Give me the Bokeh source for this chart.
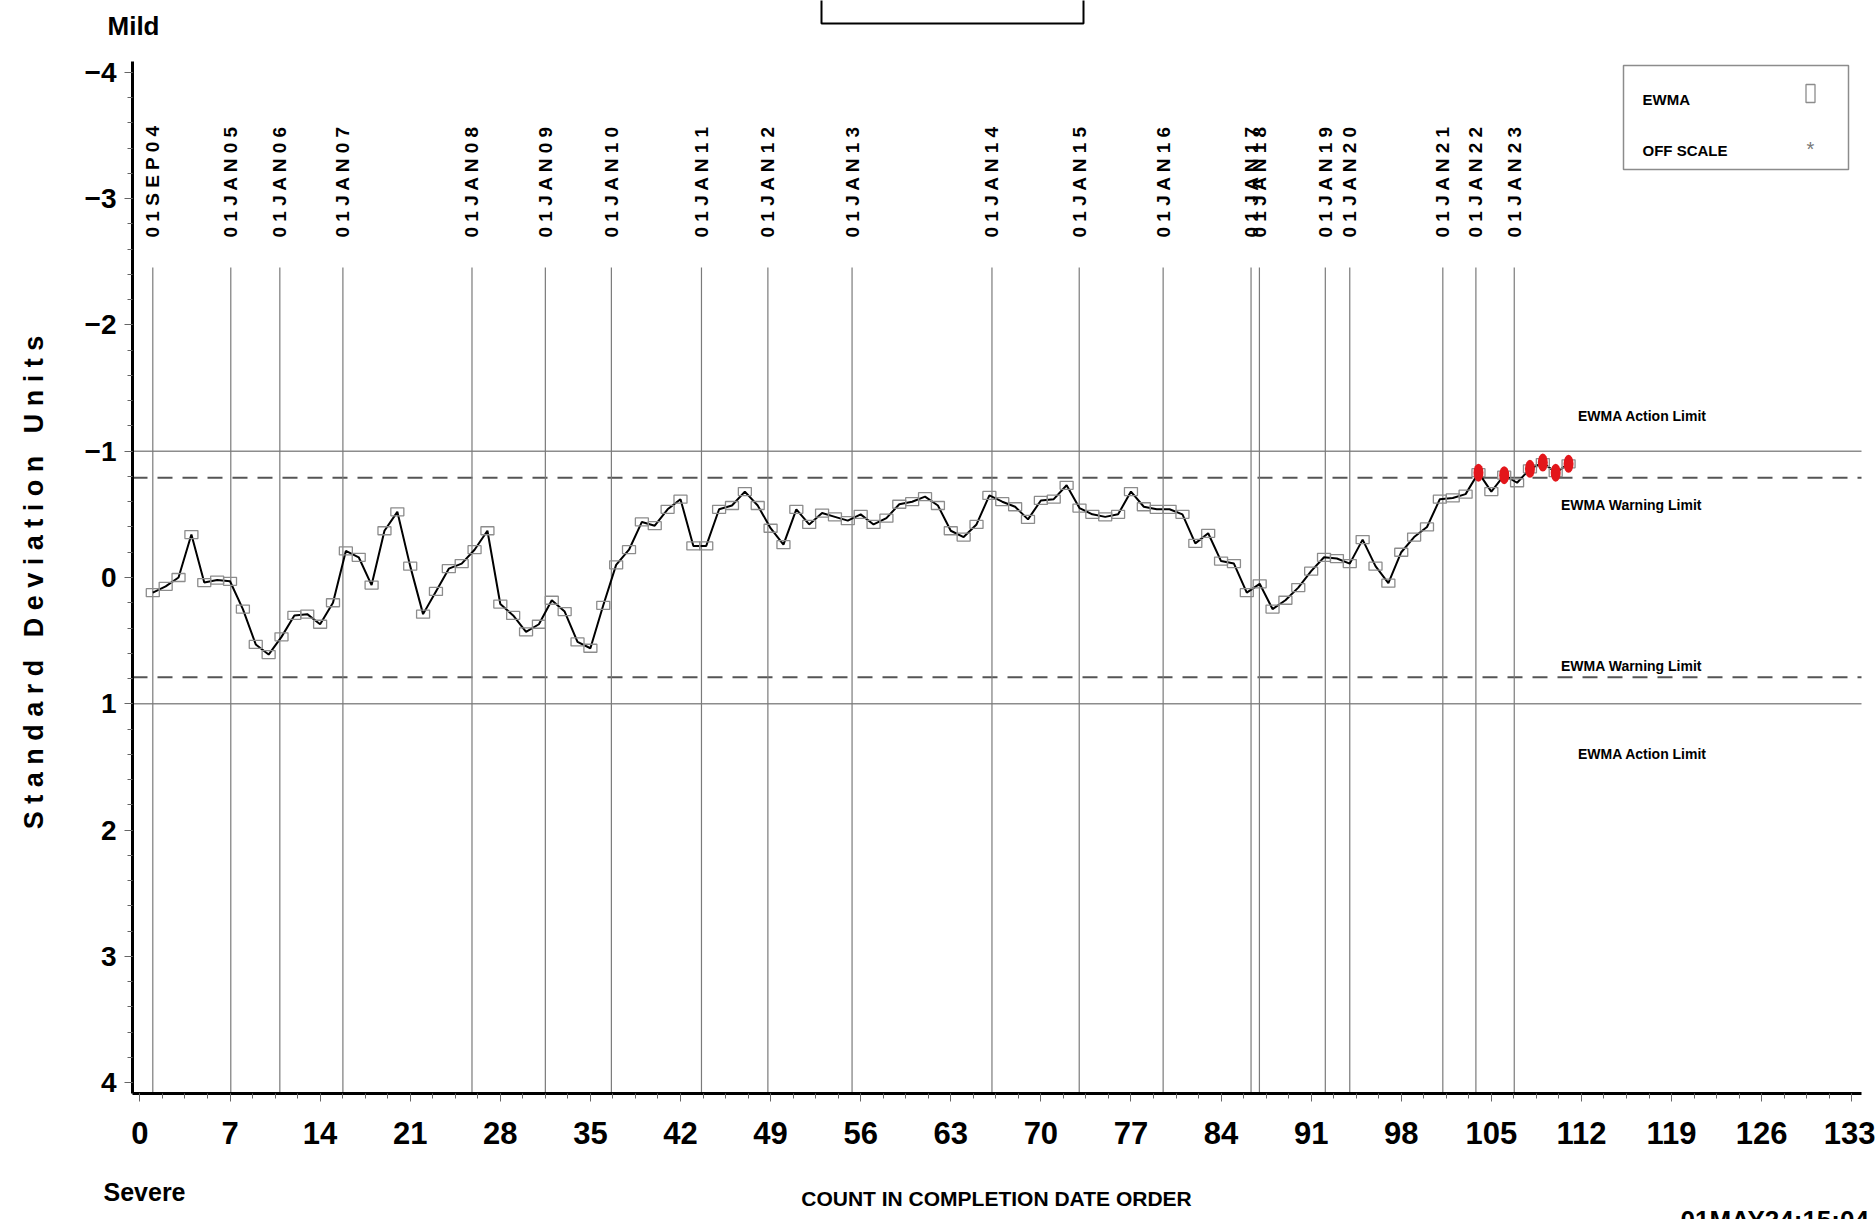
import math
from bokeh.plotting import figure
from bokeh.models import Range1d, Label, SingleIntervalTicker, PolyAnnotation
from bokeh.core.properties import value
from bokeh.embed import file_html
from bokeh.resources import INLINE

# ---------------- data ----------------
ewma = [
    0.12, 0.07, 0.00, -0.34, 0.04, 0.02, 0.03, 0.25, 0.53, 0.61,
    0.47, 0.30, 0.29, 0.37, 0.20, -0.21, -0.16, 0.06, -0.37, -0.52,
    -0.09, 0.29, 0.11, -0.07, -0.11, -0.22, -0.37, 0.21, 0.30, 0.43,
    0.37, 0.18, 0.27, 0.51, 0.56, 0.22, -0.10, -0.22, -0.44, -0.41,
    -0.54, -0.62, -0.25, -0.25, -0.54, -0.57, -0.68, -0.57, -0.39, -0.26,
    -0.54, -0.42, -0.51, -0.48, -0.45, -0.50, -0.42, -0.47, -0.58, -0.60,
    -0.64, -0.57, -0.37, -0.32, -0.42, -0.65, -0.60, -0.56, -0.46, -0.61,
    -0.62, -0.73, -0.55, -0.50, -0.48, -0.50, -0.68, -0.56, -0.54, -0.54,
    -0.50, -0.27, -0.35, -0.13, -0.11, 0.12, 0.05, 0.25, 0.18, 0.08,
    -0.05, -0.16, -0.15, -0.11, -0.30, -0.09, 0.045, -0.20, -0.32, -0.40,
    -0.62, -0.63, -0.66, -0.83, -0.68, -0.81, -0.75, -0.86, -0.91, -0.83,
    -0.90,
]
count = list(range(1, len(ewma) + 1))

date_labels = ["01SEP04", "01JAN05", "01JAN06", "01JAN07", "01JAN08", "01JAN09",
               "01JAN10", "01JAN11", "01JAN12", "01JAN13", "01JAN14", "01JAN15",
               "01JAN16", "01JAN17", "01JAN18", "01JAN19", "01JAN20", "01JAN21",
               "01JAN22", "01JAN23"]
date_positions = [1.0, 7.06, 10.87, 15.77, 25.8, 31.5, 36.63, 43.63, 48.79, 55.33,
                  66.2, 72.98, 79.5, 86.33, 86.98, 92.1, 94.0, 101.23, 103.8, 106.78]

action_limit = 1.0
warning_limit = 0.79

y_title = "Standard Deviation Units"
x_title = "COUNT IN COMPLETION DATE ORDER"

# ---------------- layout constants (canvas pixels) ----------------
W, H = 1875, 1219
AL, AR, AT, AB = 132, 1861, 61, 1093          # axis extents on the canvas
X0, X1 = -0.577, 133.76                       # data at AL / AR
YT, YB = -4.085, 4.085                        # data at AT / AB


def dx(px):
    return X0 + (px - AL) * (X1 - X0) / (AR - AL)


def dy(py):
    return YT + (py - AT) * (YB - YT) / (AB - AT)


def spread(s):
    # letter-spaced text; word gaps kept with non-breaking spaces
    return "\u00a0\u00a0\u00a0".join(" ".join(list(w)) for w in s.split(" "))


SANS = "Liberation Sans"

p = figure(width=W, height=H, x_range=Range1d(dx(0), dx(W)), y_range=Range1d(dy(H), dy(0)),
           output_backend="svg", toolbar_location=None,
           min_border_left=0, min_border_right=0, min_border_top=0, min_border_bottom=0)
p.outline_line_color = None
p.xgrid.visible = False
p.ygrid.visible = False
p.background_fill_color = "white"
p.border_fill_color = "white"

# axes drawn at fixed locations inside the full-canvas frame
p.xaxis.ticker = SingleIntervalTicker(interval=7, num_minor_ticks=4)
p.yaxis.ticker = SingleIntervalTicker(interval=1, num_minor_ticks=5)
p.xaxis.fixed_location = YB
p.yaxis.fixed_location = X0
p.xaxis.bounds = (X0, X1)
p.yaxis.bounds = (YT, YB)
for ax in (p.xaxis[0], p.yaxis[0]):
    ax.axis_line_width = 3
    ax.axis_line_color = "black"
    ax.major_tick_line_color = "#666666"
    ax.minor_tick_line_color = "#666666"
    ax.major_tick_in = 0
    ax.minor_tick_in = 0
    ax.major_tick_out = 8
    ax.minor_tick_out = 5
    ax.major_label_text_font = SANS
    ax.major_label_text_font_style = "bold"
    ax.major_label_text_color = "black"
p.xaxis.major_label_text_font_size = "31px"
p.xaxis.major_label_standoff = 20
p.yaxis.major_label_text_font_size = "28px"
p.yaxis.major_label_standoff = 8

# limit lines
p.segment(x0=[X0, X0], x1=[X1, X1], y0=[-action_limit, action_limit],
          y1=[-action_limit, action_limit], line_color="#8c8c8c", line_width=1.5)
p.segment(x0=[X0, X0], x1=[X1, X1], y0=[-warning_limit, warning_limit],
          y1=[-warning_limit, warning_limit], line_color="#555555", line_width=2,
          line_dash="15 10")

# date reference lines and labels
n = len(date_positions)
p.segment(x0=date_positions, y0=[dy(267)] * n, x1=date_positions, y1=[YB] * n,
          line_color="#7a7a7a", line_width=1.2)
spaced = [" ".join(list(s)) for s in date_labels]
p.text(x=date_positions, y=[dy(237)] * n, text=spaced,
       angle=math.pi / 2, text_align="left", text_baseline="middle",
       text_font=value(SANS), text_font_style="bold", text_font_size="19px",
       text_color="black")

# EWMA series
p.line(count, ewma, line_color="black", line_width=2)
p.rect(count, ewma, width=13, height=8, width_units="screen", height_units="screen",
       fill_color=None, line_color="#8c8c8c", line_width=1.3)
red_x = [c for c, v in zip(count, ewma) if abs(v) > warning_limit]
red_y = [v for v in ewma if abs(v) > warning_limit]
p.ellipse(red_x, red_y, width=10, height=18, width_units="screen", height_units="screen",
          fill_color="#e3161b", line_color=None)

# limit labels
lim_text = ["EWMA Action Limit", "EWMA Warning Limit", "EWMA Warning Limit", "EWMA Action Limit"]
lim_x = [dx(1642), dx(1631), dx(1631), dx(1642)]
lim_y = [dy(415), dy(504), dy(665), dy(753)]
p.text(x=lim_x, y=lim_y, text=lim_text, text_align="center", text_baseline="middle",
       text_font=value(SANS), text_font_style="bold", text_font_size="14px",
       text_color="black")

# legend box
p.quad(left=dx(1623), right=dx(1848), top=dy(65), bottom=dy(169),
       fill_color="white", line_color="#8c8c8c", line_width=1.5)
p.text(x=[dx(1642), dx(1642)], y=[dy(99), dy(150)], text=["EWMA", "OFF SCALE"],
       text_align="left", text_baseline="middle", text_font=value(SANS),
       text_font_style="bold", text_font_size="15px", text_color="black")
p.rect([dx(1810)], [dy(93)], width=9, height=18, width_units="screen", height_units="screen",
       fill_color=None, line_color="#8c8c8c", line_width=1.3)
p.text(x=[dx(1810)], y=[dy(148)], text=["*"], text_align="center", text_baseline="middle",
       text_font=value(SANS), text_font_size="20px", text_color="#777777")

# outer labels
def add_label(px, py, text, size, align="center", baseline="middle", angle=0.0):
    p.add_layout(Label(x=dx(px), y=dy(py), text=text, text_align=align, text_baseline=baseline,
                       angle=angle, text_font=SANS, text_font_style="bold",
                       text_font_size=size, text_color="black"))


add_label(133, 25, "Mild", "26px")
add_label(144, 1191, "Severe", "25px")
add_label(996, 1198, x_title, "21px")
add_label(33, 582, spread(y_title), "27px", angle=math.pi / 2)
add_label(1680, 1204, "01MAY24:15:04", "26px", align="left", baseline="top")

p.add_layout(PolyAnnotation(xs=[dx(821), dx(1083), dx(1083), dx(821)],
                            ys=[dy(-20), dy(-20), dy(23), dy(23)],
                            fill_color=None, line_color="black", line_alpha=1.0,
                            line_width=2))

open("out.html", "w").write(file_html(p, INLINE))
